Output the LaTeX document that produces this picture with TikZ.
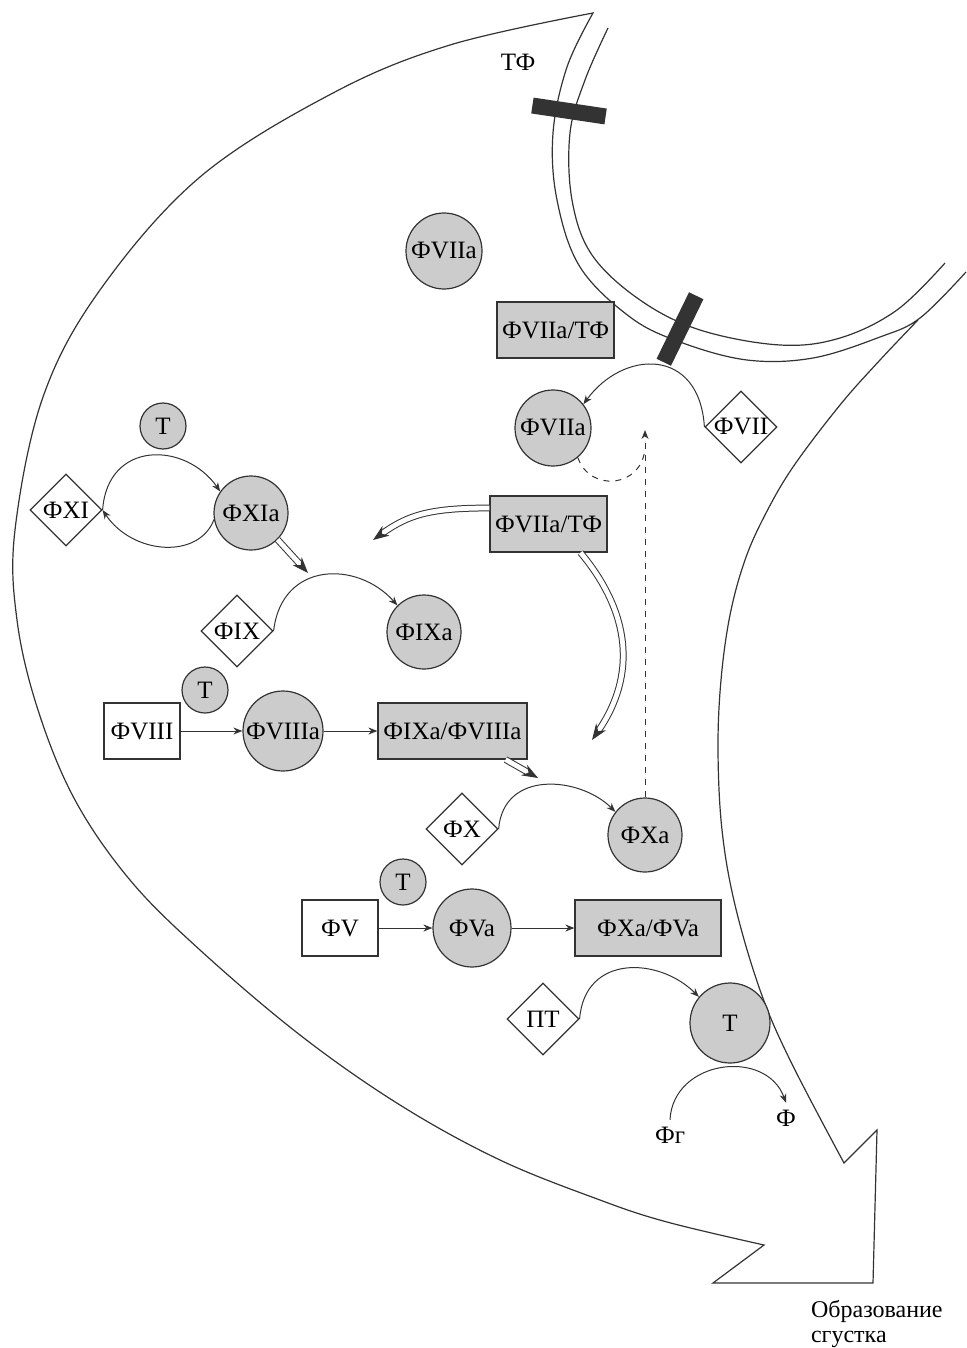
\documentclass[tikz,border=0pt]{standalone}
\usepackage{fontspec}
\setmainfont{Liberation Serif}
\usepackage{tikz}
\usetikzlibrary{arrows.meta,shapes.geometric}

\begin{document}
\begin{tikzpicture}[
  x=5pt,y=5pt,>={Stealth[length=4.5pt,width=3.5pt]},
  font=\fontsize{12.5}{14}\selectfont,
  outline/.style={draw=black!80,line width=.6pt},
  receptor/.style={fill=black!80,minimum width=37pt,minimum height=8pt,
    inner sep=0pt},
  enzyme/.style={circle,draw=black!80,fill=black!20,line width=.6pt,
    minimum size=38pt,inner sep=0pt},
  thrombin/.style={enzyme,minimum size=23pt},
  zymogen/.style={diamond,draw=black!80,fill=white,line width=.6pt,
    minimum size=36pt,inner sep=0pt},
  complex/.style={rectangle,draw=black!80,fill=black!20,line width=.6pt,
    minimum width=58.5pt,minimum height=28pt,inner sep=2pt},
  cofactor/.style={complex,fill=white,minimum width=38pt},
  reaction/.style={->,draw=black!80,line width=.5pt},
  transfer/.style={draw=black!80,double=white,double distance=2.4pt,
    line width=.5pt,-{Stealth[length=8pt,width=6pt]}},
  feedback/.style={draw=black!80,dashed,line width=.5pt}
]
\useasboundingbox (0,0) rectangle (96.6,-134.8);

% big arrow and the cell wall
\draw[outline] plot[smooth,tension=.6] coordinates {(96.6,-27.2) (92.0,-31.8)
    (88.0,-33.7) (81.3,-35.8) (74.7,-36.0) (68.0,-34.2) (63.0,-31.7)
    (58.0,-26.7) (55.7,-20.0) (55.3,-13.3) (56.7,-6.7) (59.3,-1.3)}
  -- plot[smooth,tension=.6] coordinates {(59.3,-1.3) (45.0,-4.5) (33.3,-9.3)
    (20.0,-17.7) (10.0,-29.0) (4.3,-39.7) (1.5,-53.0) (1.7,-62.0) (3.8,-71.0)
    (7.5,-80.0) (13.0,-88.0) (20.0,-95.0) (30.0,-103.5) (40.0,-110.5)
    (50.0,-116.0) (60.0,-120.0) (66.7,-122.2) (76.4,-124.5)}
  -- (71.3,-128.3) -- (87.3,-128.3) -- (87.7,-113.0) -- (84.4,-116.3)
  -- plot[smooth,tension=.6] coordinates {(84.4,-116.3) (79.0,-106.0)
    (76.0,-99.0) (73.5,-90.5) (72.2,-83.0) (71.8,-75.0) (72.1,-68.0)
    (73.0,-61.5) (74.5,-56.0) (76.5,-51.5) (79.3,-46.7) (84.0,-40.5)
    (88.0,-36.0) (91.8,-32.0)};
\draw[outline] plot[smooth,tension=.6] coordinates {(60.8,-2.8) (58.5,-8.0)
    (57.0,-13.3) (57.2,-20.0) (59.2,-25.5) (64.0,-30.0) (70.0,-33.0)
    (78.0,-34.5) (84.0,-33.8) (89.7,-31.0) (94.5,-26.3)};

\node (tf) at (51.8,-6.2) {ТФ};
\node[receptor,rotate=-8.5] (r1) at (56.9,-11.1) {};
\node[receptor,rotate=64] (r2) at (68.0,-32.9) {};

\node[enzyme] (f7a) at (44.4,-25.1) {ФVIIa};
\node[complex] (tfc) at (55.55,-33.0) {ФVIIa/ТФ};
\node[enzyme] (f7b) at (55.3,-42.8) {ФVIIa};
\node[zymogen] (f7) at (74.1,-42.7) {ФVII};

\node[thrombin] (t1) at (16.3,-42.6) {Т};
\node[zymogen] (f11) at (6.6,-51.0) {ФXI};
\node[enzyme,minimum size=37pt] (f11a) at (25.1,-51.3) {ФXIa};
\node[complex] (tfd) at (54.85,-52.4) {ФVIIa/ТФ};
\node[zymogen] (f9) at (23.7,-63.1) {ФIX};
\node[enzyme,minimum size=37pt] (f9a) at (42.4,-63.2) {ФIXa};

\node[thrombin] (t2) at (20.5,-69.0) {Т};
\node[cofactor] (f8) at (14.2,-73.1) {ФVIII};
\node[enzyme,minimum size=40pt] (f8a) at (28.3,-73.1) {ФVIIIa};
\node[complex,minimum width=74.5pt] (ten) at (45.25,-73.1) {ФIXa/ФVIIIa};
\node[zymogen] (f10) at (46.2,-82.9) {ФX};
\node[enzyme,minimum size=37pt] (f10a) at (64.5,-83.5) {ФXa};

\node[thrombin] (t3) at (40.3,-88.2) {Т};
\node[cofactor] (f5) at (34.0,-92.8) {ФV};
\node[enzyme,minimum size=39pt] (f5a) at (47.2,-92.8) {ФVa};
\node[complex,minimum width=73pt] (pro) at (64.8,-92.8) {ФXa/ФVa};
\node[zymogen] (pt) at (54.3,-101.9) {ПТ};
\node[enzyme,minimum size=40pt] (thr) at (73.0,-102.3) {Т};
\node (fg) at (67.0,-113.5) {Фг};
\node (fi) at (78.6,-111.8) {Ф};
\node[anchor=north west,align=left,font=\fontsize{12}{12.5}\selectfont]
  (clot) at (80.4,-129.3) {Образование\\сгустка};

\coordinate (xa) at (37.3,-54.0);
\coordinate (xb) at (59.2,-74.0);
\coordinate (xc) at (30.8,-57.3);
\coordinate (xd) at (53.8,-77.8);
\coordinate (fb) at (64.5,-43.0);
\coordinate (fj) at (64.5,-44.8);

\draw[reaction] (f7.west) .. controls +(-0.5,8) and +(4,5.5) .. (f7b.38);
\draw[reaction] (f11.east) .. controls +(0.5,7) and +(-3.5,5) .. (f11a.145);
\draw[reaction] (f11a.190) .. controls +(-1.5,-4) and +(3,-4.5) .. (f11.east);
\draw[reaction] (f9.east) .. controls +(0.8,7) and +(-4,4.5) .. (f9a.135);
\draw[reaction] (f10.east) .. controls +(0.5,6) and +(-3.5,3.5) .. (f10a.142);
\draw[reaction] (pt.east) .. controls +(0.5,6.5) and +(-4,4) .. (thr.140);
\draw[reaction] (fg.north) .. controls +(0.3,6) and +(-2,5.5) .. (fi.north);

\draw[reaction] (f8) -- (f8a);
\draw[reaction] (f8a) -- (ten);
\draw[reaction] (f5) -- (f5a);
\draw[reaction] (f5a) -- (pro);

\draw[transfer] ([yshift=8pt]tfd.west) .. controls +(-6,0) and +(3.5,2.5) .. (xa);
\draw[transfer] ([xshift=16pt]tfd.south) .. controls +(5,-6) and +(4.5,6.5) .. (xb);
\draw[transfer] (f11a.-45) -- (xc);
\draw[transfer] ([xshift=-11pt]ten.south east) -- (xd);

\draw[feedback,->] (f10a.north) -- (fb);
\draw[feedback] (f7b.-50) .. controls +(1.2,-3.5) and +(-0.3,-4) .. (fj);
\end{tikzpicture}
\end{document}
